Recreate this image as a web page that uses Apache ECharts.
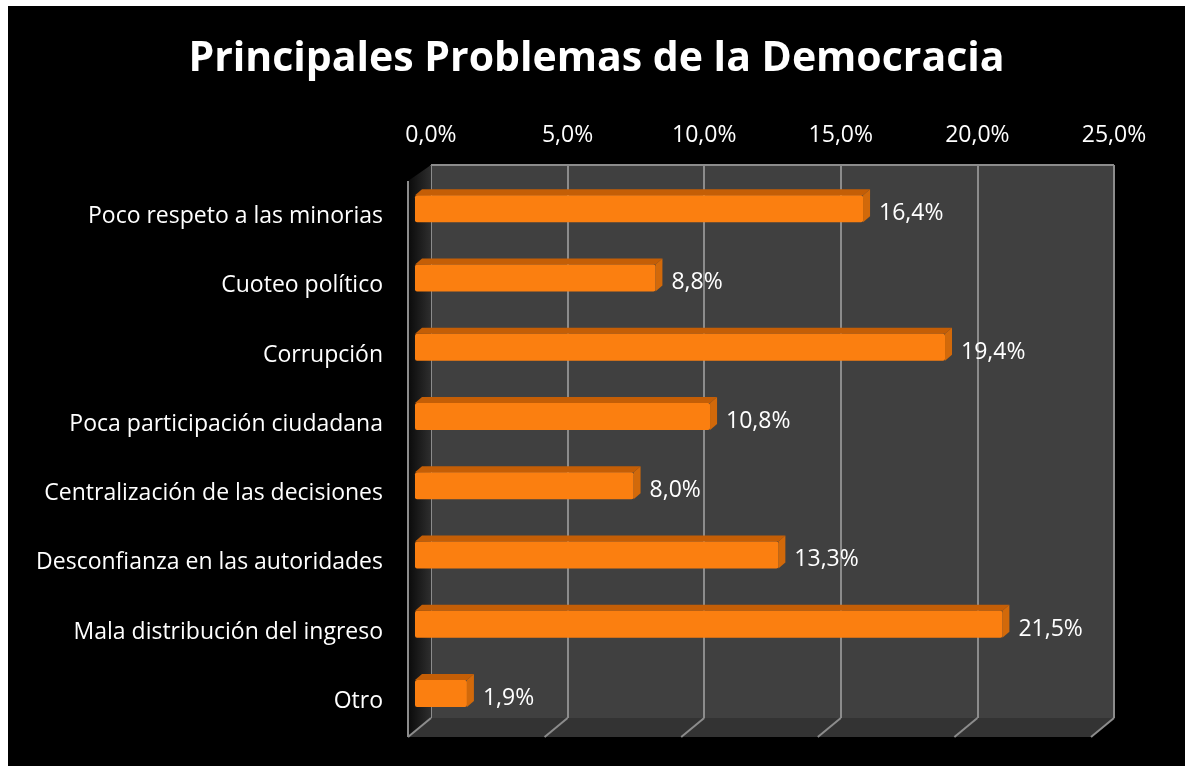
<!DOCTYPE html>
<html>
<head>
<meta charset="utf-8">
<title>Principales Problemas de la Democracia</title>
<style>
  html, body { margin: 0; padding: 0; background: #fff; }
  #main { position: absolute; left: 8px; top: 6px; width: 1177px; height: 760px; background: #000; }
</style>
</head>
<body>
<div id="main"></div>
<script src="https://cdn.jsdelivr.net/npm/echarts@6/dist/echarts.min.js"></script>
<script>
// datos
var categories = [
  'Poco respeto a las minorias',
  'Cuoteo político',
  'Corrupción',
  'Poca participación ciudadana',
  'Centralización de las decisiones',
  'Desconfianza en las autoridades',
  'Mala distribución del ingreso',
  'Otro'
];
var values = [16.4, 8.8, 19.4, 10.8, 8.0, 13.3, 21.5, 1.9];
var axisTicks = [0, 5, 10, 15, 20, 25];

var FONT = '"Open Sans", sans-serif';
function pct(v) { return v.toFixed(1).replace('.', ',') + '%'; }

var myChart = echarts.init(document.getElementById('main'));

var option = {
  backgroundColor: '#000',
  animation: false,
  title: {
    text: 'Principales Problemas de la Democracia',
    left: 'center',
    top: 28,
    textStyle: { color: '#fff', fontFamily: FONT, fontWeight: 'bold', fontSize: 41 }
  },
  grid: [
    // pared del fondo
    { left: 423, top: 159, width: 683, height: 553, show: true, backgroundColor: '#404040', borderWidth: 0 },
    // barras (plano delantero)
    { left: 407, top: 168, width: 683, height: 554 }
  ],
  xAxis: [
    {
      gridIndex: 0, type: 'value', position: 'top', min: 0, max: 25, interval: 5,
      axisLine: { show: false }, axisTick: { show: false },
      splitLine: { show: true, lineStyle: { color: '#8c8c8c', width: 2 } },
      axisLabel: { color: '#fff', fontFamily: FONT, fontSize: 23, margin: 18, formatter: pct }
    },
    {
      gridIndex: 1, type: 'value', min: 0, max: 25, show: false
    }
  ],
  yAxis: [
    { gridIndex: 0, type: 'value', show: false },
    {
      gridIndex: 1, type: 'category', inverse: true, data: categories,
      axisLine: { show: false }, axisTick: { show: false },
      axisLabel: {
        margin: 32,
        formatter: function (v) { return '{c|' + v + '}'; },
        rich: { c: { color: '#fff', fontFamily: FONT, fontSize: 23, padding: [16, 0, 0, 0] } }
      }
    }
  ],
  series: [
    {
      type: 'custom',
      xAxisIndex: 1,
      yAxisIndex: 1,
      z: 10,
      encode: { x: 0, y: 1 },
      data: values.map(function (v, i) { return [v, i]; }),
      renderItem: function (params, api) {
        var p0 = api.coord([0, api.value(1)]);
        var p1 = api.coord([api.value(0), api.value(1)]);
        var h = 27, dx = 7, dy = 6;
        var yT = p0[1] - h / 2, yB = p0[1] + h / 2;
        var x0 = p0[0], x1 = p1[0];
        return {
          type: 'group',
          children: [
            { type: 'polygon', shape: { points: [[x0, yT], [x0 + dx, yT - dy], [x1 + dx, yT - dy], [x1, yT]] },
              style: { fill: '#c45e06' } },
            { type: 'polygon', shape: { points: [[x1, yT], [x1 + dx, yT - dy], [x1 + dx, yB - dy], [x1, yB]] },
              style: { fill: '#d2690a' } },
            { type: 'rect', shape: { x: x0, y: yT, width: x1 - x0, height: h, r: 2 },
              style: { fill: '#fb7f10' } },
            { type: 'text', x: x1 + 16, y: p0[1] + 5,
              style: { text: pct(api.value(0)), fill: '#fff', font: '23px ' + FONT, verticalAlign: 'middle', align: 'left' } }
          ]
        };
      }
    }
  ]
};
myChart.setOption(option);

// piso y pared izquierda en perspectiva, calculados con las escalas del eje
var backLeft = myChart.convertToPixel({ xAxisIndex: 0 }, 0);
var backRight = myChart.convertToPixel({ xAxisIndex: 0 }, 25);
var backTop = 159, backBottom = 712, ddx = 23, ddy = 19;
var gfx = [
  { type: 'polygon', z: 1,
    shape: { points: [[backLeft, backBottom], [backRight, backBottom], [backRight - ddx, backBottom + ddy], [backLeft - ddx, backBottom + ddy]] },
    style: { fill: '#333333' } },
  { type: 'polygon', z: 1,
    shape: { points: [[backLeft - ddx, backTop + ddy - 3], [backLeft, backTop], [backLeft, backBottom], [backLeft - ddx, backBottom + ddy]] },
    style: { fill: new echarts.graphic.LinearGradient(0, 0, 1, 0, [{ offset: 0, color: '#0a0a0a' }, { offset: 1, color: '#2e2e2e' }]) } },
  { type: 'line', z: 2, shape: { x1: backLeft - ddx, y1: backTop + ddy - 3, x2: backLeft - ddx, y2: backBottom + ddy },
    style: { stroke: '#8c8c8c', lineWidth: 2 } },
  { type: 'line', z: 2, shape: { x1: backLeft, y1: backTop, x2: backRight, y2: backTop },
    style: { stroke: '#8c8c8c', lineWidth: 2 } }
];
axisTicks.forEach(function (t) {
  var x = myChart.convertToPixel({ xAxisIndex: 0 }, t);
  gfx.push({ type: 'line', z: 2, shape: { x1: x, y1: backBottom, x2: x - ddx, y2: backBottom + ddy },
    style: { stroke: '#8c8c8c', lineWidth: 2 } });
});
myChart.setOption({ graphic: gfx });
</script>
</body>
</html>
